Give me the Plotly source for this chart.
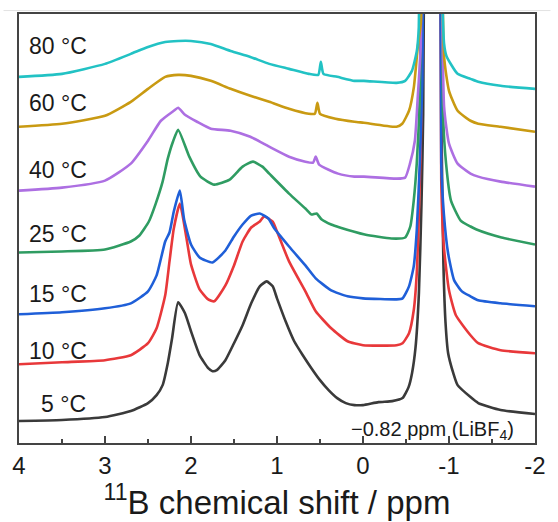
import plotly.graph_objects as go

# ---- data (ppm, intensity in arbitrary stacked units) ----
labels = ["5 °C", "10 °C", "15 °C", "25 °C", "40 °C", "60 °C", "80 °C"]
colors = ["#3a3a3a", "#e8383a", "#1f5fd8", "#2f9c62", "#ad6fe2", "#c99a12", "#22c2c4"]

ppm_5 = [4.0, 3.5, 3.0, 2.7, 2.5, 2.4, 2.33, 2.27, 2.22, 2.15, 2.07, 2.0, 1.9, 1.8, 1.75, 1.7, 1.6, 1.5, 1.4,
         1.3, 1.2, 1.12, 1.05, 1.0, 0.9, 0.8, 0.7, 0.6, 0.5, 0.4, 0.3, 0.2, 0.1, 0.0, -0.18, -0.34,
         -0.46, -0.53, -0.57, -0.61, -0.65, -0.68, -0.70, -0.735, -0.81, -0.885, -0.915, -0.935, -0.96,
         -0.99, -1.05, -1.1, -1.25, -1.34, -1.6, -2.0]
int_5 = [22, 23, 26, 32, 40, 48, 58, 80, 105, 141, 130, 112, 88, 75, 72, 73, 83, 100, 118,
         140, 157, 162, 157, 145, 122, 102, 88, 75, 63, 53, 45, 40, 38, 38, 41, 42,
         45, 56, 70, 95, 150, 240, 330, 900, 2500, 900, 300, 180, 120,
         90, 70, 58, 46, 40, 33, 29]

ppm_10 = [4.0, 3.5, 3.0, 2.7, 2.5, 2.4, 2.3, 2.25, 2.2, 2.13, 2.05, 2.0, 1.9, 1.8, 1.73, 1.6, 1.5, 1.4, 1.3,
          1.2, 1.15, 1.05, 1.0, 0.86, 0.67, 0.55, 0.37, 0.18, 0.0, -0.39, -0.46, -0.535, -0.59, -0.625,
          -0.65, -0.68, -0.735, -0.81, -0.885, -0.91, -0.94, -1.0, -1.08, -1.25, -1.34, -1.6, -2.0]
int_10 = [79, 81, 83, 88, 100, 115, 148, 182, 215, 240, 204, 179, 154, 144, 142, 158, 178, 202, 216,
          222, 227, 222, 212, 182, 152, 132, 115, 102, 98, 98, 100, 110, 133, 170,
          230, 330, 900, 2500, 900, 263, 197, 153, 128, 108, 100, 93, 90]

ppm_15 = [4.0, 3.5, 3.0, 2.7, 2.5, 2.4, 2.3, 2.25, 2.2, 2.13, 2.08, 2.0, 1.9, 1.75, 1.6, 1.5, 1.4, 1.3, 1.2,
          1.1, 1.03, 0.86, 0.67, 0.55, 0.37, 0.18, 0.0, -0.39, -0.46, -0.535, -0.59, -0.625, -0.66, -0.69,
          -0.735, -0.81, -0.885, -0.91, -0.94, -0.99, -1.06, -1.15, -1.25, -1.34, -1.6, -2.0]
int_15 = [129, 131, 135, 140, 152, 168, 202, 211, 232, 253, 224, 199, 186, 181, 193, 207, 219, 228, 230,
          225, 215, 197, 178, 165, 153, 147, 145, 144, 145, 157, 177, 213, 280, 363,
          900, 2500, 900, 280, 230, 190, 163, 152, 147, 143, 140, 137]

ppm_25 = [4.0, 3.5, 3.0, 2.7, 2.6, 2.49, 2.41, 2.33, 2.27, 2.21, 2.15, 2.02, 1.89, 1.73, 1.55, 1.4, 1.28,
          1.17, 1.09, 0.86, 0.67, 0.6, 0.54, 0.48, 0.37, 0.27, -0.02, -0.33, -0.49, -0.55, -0.59, -0.625,
          -0.66, -0.735, -0.81, -0.885, -0.93, -0.966, -1.023, -1.136, -1.25, -1.32, -1.61, -2.0]
int_25 = [191, 192, 194, 202, 208, 222, 240, 262, 285, 302, 314, 287, 267, 259, 264, 277, 282,
          277, 270, 250, 235, 229, 230, 224, 219, 216, 209, 205, 206, 217, 243, 280,
          347, 900, 2500, 900, 330, 280, 243, 223, 217, 214, 206, 199]

ppm_40 = [4.0, 3.5, 3.0, 2.7, 2.5, 2.35, 2.2, 2.15, 2.07, 1.93, 1.77, 1.54, 1.31, 1.09, 0.86, 0.67, 0.58,
          0.55, 0.51, 0.29, 0.1, -0.01, -0.39, -0.49, -0.546, -0.603, -0.637, -0.671, -0.735, -0.81,
          -0.885, -0.943, -1.0, -1.1, -1.25, -1.34, -1.6, -2.0]
int_40 = [253, 256, 263, 280, 303, 323, 333, 336, 329, 322, 315, 313, 307, 297, 287, 282, 281,
          287, 279, 270, 267, 267, 265, 266, 280, 303, 347, 397, 900, 2500,
          900, 337, 300, 280, 270, 267, 262, 257]

ppm_60 = [4.0, 3.5, 3.0, 2.7, 2.5, 2.3, 2.15, 2.0, 1.77, 1.54, 1.31, 1.09, 0.86, 0.63, 0.56, 0.53, 0.5,
          0.32, 0.1, -0.01, -0.39, -0.456, -0.535, -0.592, -0.637, -0.671, -0.735, -0.81, -0.885,
          -0.943, -1.0, -1.1, -1.25, -1.34, -1.6, -2.0]
int_60 = [317, 320, 328, 342, 355, 367, 369, 368, 363, 355, 348, 342, 335, 330, 330, 341, 330,
          325, 322, 321, 317, 320, 333, 357, 397, 420, 900, 2500, 900,
          387, 353, 333, 323, 320, 317, 312]

ppm_80 = [4.0, 3.5, 3.0, 2.7, 2.5, 2.3, 2.15, 2.0, 1.77, 1.54, 1.31, 1.09, 0.86, 0.63, 0.52, 0.49, 0.46,
          0.3, 0.1, -0.01, -0.39, -0.49, -0.569, -0.626, -0.649, -0.72, -0.81, -0.885, -0.92, -0.943,
          -0.97, -1.1, -1.25, -1.34, -1.6, -2.0]
int_80 = [367, 370, 380, 390, 397, 402, 403, 403, 400, 393, 387, 380, 375, 370, 369, 382, 370,
          367, 363, 363, 361, 363, 373, 393, 417, 900, 2500, 900, 460, 400,
          388, 370, 365, 362, 358, 355]

series_ppm = [ppm_5, ppm_10, ppm_15, ppm_25, ppm_40, ppm_60, ppm_80]
series_int = [int_5, int_10, int_15, int_25, int_40, int_60, int_80]

# label anchor positions (ppm, intensity)
label_x = [3.77, 3.91, 3.91, 3.91, 3.91, 3.91, 3.91]
label_y = [39, 92, 149, 209, 274, 341, 398]

tick_vals = [4, 3, 2, 1, 0, -1, -2]
tick_text = ["4", "3", "2", "1", "0", "-1", "-2"]

FONT = "Liberation Sans, Arial, sans-serif"

fig = go.Figure()
for xs, ys, c, name in zip(series_ppm, series_int, colors, labels):
    fig.add_trace(go.Scatter(x=xs, y=ys, mode="lines", name=name,
                             line=dict(color=c, width=2.6, shape="spline", smoothing=0.5),
                             showlegend=False, hoverinfo="skip"))

for t, lx, ly in zip(labels, label_x, label_y):
    fig.add_annotation(x=lx, y=ly, xref="x", yref="y", text=t, showarrow=False,
                       xanchor="left", yanchor="middle",
                       font=dict(family=FONT, size=23, color="#1a1a1a"))

fig.add_annotation(x=0.16, y=13, xref="x", yref="y", text="\u22120.82 ppm (LiBF<sub>4</sub>)",
                   showarrow=False, xanchor="left", yanchor="middle",
                   font=dict(family=FONT, size=20, color="#1a1a1a"))

fig.add_shape(type="line", xref="paper", yref="paper", x0=-0.03, x1=1.03, y0=1.008, y1=1.008,
              line=dict(color="#e2e2e2", width=1))

fig.update_layout(
    width=558, height=522,
    margin=dict(l=17, r=12, t=14, b=78),
    paper_bgcolor="white", plot_bgcolor="white",
    font=dict(family=FONT, color="#1a1a1a"),
    xaxis=dict(range=[4, -2], tickvals=tick_vals, ticktext=tick_text,
               ticks="inside", ticklen=7, tickwidth=1.5, tickcolor="#444",
               minor=dict(dtick=0.5, ticks="inside", ticklen=4, tickwidth=1.5, tickcolor="#444"),
               showline=True, mirror=True, linecolor="#444", linewidth=2,
               showgrid=False, zeroline=False,
               tickfont=dict(size=24, family=FONT, color="#1a1a1a"),
               title=dict(text="<sup>11</sup>B chemical shift / ppm",
                          font=dict(size=33, family=FONT, color="#1a1a1a"), standoff=8)),
    yaxis=dict(range=[0, 430], showticklabels=False, ticks="", showgrid=False, zeroline=False,
               showline=True, mirror=True, linecolor="#444", linewidth=2),
)

fig.write_html("out.html")
